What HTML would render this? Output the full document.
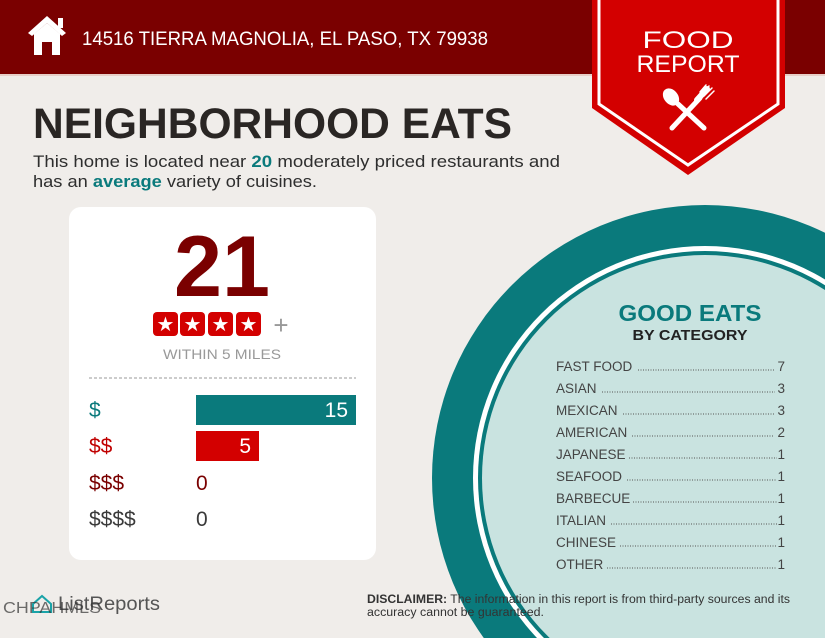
<!DOCTYPE html>
<html><head><meta charset="utf-8"><style>
html,body{margin:0;padding:0;background:#f0edea;width:825px;height:638px;overflow:hidden;}
svg{display:block;font-family:"Liberation Sans",sans-serif;overflow:hidden;}
</style></head><body>
<svg width="825" height="638" viewBox="0 0 825 638" xmlns="http://www.w3.org/2000/svg">
<defs><clipPath id="pg"><rect x="0" y="0" width="825" height="638"/></clipPath></defs>
<rect x="0" y="0" width="825" height="638" fill="#f0edea"/>
<!-- circle -->
<g clip-path="url(#pg)">
<circle cx="705" cy="478" r="273" fill="#0a7a7c"/>
<circle cx="705" cy="478" r="232" fill="#ffffff"/>
<circle cx="705" cy="478" r="227" fill="#0a7a7c"/>
<circle cx="705" cy="478" r="223" fill="#c9e3e0"/>
</g>
<!-- header -->
<rect x="0" y="0" width="825" height="74" fill="#7a0000"/>
<rect x="0" y="74" width="825" height="2" fill="#e8cfc8"/>
<!-- house icon -->
<path d="M28 33 L47 16 L66 33 L62 36 L47 23 L32 36 Z" fill="#fff"/>
<rect x="58" y="18" width="5" height="10" fill="#fff"/>
<path d="M34 34 L47 23 L60 34 L60 55 L52 55 L52 42 L42 42 L42 55 L34 55 Z" fill="#fff"/>
<text x="82" y="45" font-size="19" fill="#fff" textLength="406" lengthAdjust="spacingAndGlyphs">14516 TIERRA MAGNOLIA, EL PASO, TX 79938</text>
<!-- banner -->
<path d="M592 0 L785 0 L785 108 L688 175 L592 108 Z" fill="#d30000"/>
<path d="M599 0 L599 104 L688 165 L778 104 L778 0" fill="none" stroke="#fff" stroke-width="3"/>
<text x="688" y="48" font-size="24" fill="#fff" text-anchor="middle" textLength="91" lengthAdjust="spacingAndGlyphs">FOOD</text>
<text x="688" y="72" font-size="24" fill="#fff" text-anchor="middle" textLength="103" lengthAdjust="spacingAndGlyphs">REPORT</text>
<!-- spoon & fork -->
<g stroke="#fff" stroke-linecap="round" fill="#fff">
<line x1="678" y1="104" x2="704" y2="128" stroke-width="5"/>
<ellipse cx="671" cy="97" rx="6.5" ry="9" transform="rotate(-40 671 97)"/>
<line x1="700" y1="98" x2="672" y2="128" stroke-width="5"/>
<path d="M697 100 L707 89" stroke-width="6"/>
<line x1="702" y1="94" x2="709" y2="86" stroke-width="1.5"/>
<line x1="704" y1="96" x2="712" y2="88" stroke-width="1.5"/>
<line x1="700" y1="92" x2="706" y2="85" stroke-width="1.5"/>
<line x1="706" y1="99" x2="714" y2="91" stroke-width="1.5"/>
</g>
<!-- title -->
<text x="33" y="138" font-size="43" font-weight="bold" fill="#2a2624" textLength="479" lengthAdjust="spacingAndGlyphs">NEIGHBORHOOD EATS</text>
<text x="33" y="167" font-size="17" fill="#2e2e2e" textLength="527" lengthAdjust="spacingAndGlyphs">This home is located near <tspan fill="#0a7a7c" font-weight="bold">20</tspan> moderately priced restaurants and</text>
<text x="33" y="187" font-size="17" fill="#2e2e2e" textLength="284" lengthAdjust="spacingAndGlyphs">has an <tspan fill="#0a7a7c" font-weight="bold">average</tspan> variety of cuisines.</text>
<!-- card -->
<rect x="69" y="207" width="307" height="353" rx="12" fill="#fff"/>
<text x="222" y="296" font-size="86" font-weight="bold" fill="#7a0000" text-anchor="middle" textLength="96" lengthAdjust="spacingAndGlyphs">21</text>
<g>
<rect x="153" y="312" width="25" height="24" rx="4" fill="#d30000"/>
<rect x="180" y="312" width="25" height="24" rx="4" fill="#d30000"/>
<rect x="208" y="312" width="25" height="24" rx="4" fill="#d30000"/>
<rect x="236" y="312" width="25" height="24" rx="4" fill="#d30000"/>
<g fill="#fff" font-size="20" text-anchor="middle">
<text x="165.5" y="331">★</text><text x="192.5" y="331">★</text><text x="220.5" y="331">★</text><text x="248.5" y="331">★</text>
</g>
<text x="281" y="334" font-size="26" fill="#999" text-anchor="middle">+</text>
</g>
<text x="222" y="359" font-size="14" fill="#999" text-anchor="middle" textLength="118" lengthAdjust="spacingAndGlyphs">WITHIN 5 MILES</text>
<line x1="89" y1="378" x2="356" y2="378" stroke="#999" stroke-width="1" stroke-dasharray="3,2"/>
<rect x="196" y="395" width="160" height="30" fill="#0a7a7c"/>
<rect x="196" y="431" width="63" height="30" fill="#d30000"/>
<g font-size="21">
<text x="89" y="417" fill="#0a7a7c">$</text>
<text x="89" y="453" fill="#c00000">$$</text>
<text x="89" y="490" fill="#7a0000">$$$</text>
<text x="89" y="526" fill="#3a3a3a">$$$$</text>
<text x="348" y="417" fill="#fff" text-anchor="end">15</text>
<text x="251" y="453" fill="#fff" text-anchor="end">5</text>
<text x="196" y="490" fill="#7a0000">0</text>
<text x="196" y="526" fill="#3a3a3a">0</text>
</g>
<!-- good eats -->
<text x="690" y="321" font-size="23" font-weight="bold" fill="#0a7a7c" text-anchor="middle" textLength="143" lengthAdjust="spacingAndGlyphs">GOOD EATS</text>
<text x="690" y="340" font-size="15" font-weight="bold" fill="#222" text-anchor="middle" textLength="115" lengthAdjust="spacingAndGlyphs">BY CATEGORY</text>
<g font-size="13.5" fill="#444">
<text x="556" y="371">FAST FOOD</text><text x="785" y="371" text-anchor="end">7</text>
<text x="556" y="393">ASIAN</text><text x="785" y="393" text-anchor="end">3</text>
<text x="556" y="415">MEXICAN</text><text x="785" y="415" text-anchor="end">3</text>
<text x="556" y="437">AMERICAN</text><text x="785" y="437" text-anchor="end">2</text>
<text x="556" y="459">JAPANESE</text><text x="785" y="459" text-anchor="end">1</text>
<text x="556" y="481">SEAFOOD</text><text x="785" y="481" text-anchor="end">1</text>
<text x="556" y="503">BARBECUE</text><text x="785" y="503" text-anchor="end">1</text>
<text x="556" y="525">ITALIAN</text><text x="785" y="525" text-anchor="end">1</text>
<text x="556" y="547">CHINESE</text><text x="785" y="547" text-anchor="end">1</text>
<text x="556" y="569">OTHER</text><text x="785" y="569" text-anchor="end">1</text>
</g>
<g stroke="#555" stroke-width="1" stroke-dasharray="1,1.5">
<line x1="638" y1="370" x2="775" y2="370"/>
<line x1="602" y1="392" x2="775" y2="392"/>
<line x1="623" y1="414" x2="775" y2="414"/>
<line x1="632" y1="436" x2="774" y2="436"/>
<line x1="629" y1="458" x2="777" y2="458"/>
<line x1="627" y1="480" x2="777" y2="480"/>
<line x1="633" y1="502" x2="777" y2="502"/>
<line x1="611" y1="524" x2="777" y2="524"/>
<line x1="620" y1="546" x2="777" y2="546"/>
<line x1="607" y1="568" x2="777" y2="568"/>
</g>
<!-- footer -->
<path d="M33 604 L42 596 L51 604 L51 612 L33 612 Z" fill="none" stroke="#1aa3a8" stroke-width="2"/>
<text x="58" y="610" font-size="19" fill="#555" textLength="102" lengthAdjust="spacingAndGlyphs">ListReports</text>
<text x="3" y="613" font-size="16" fill="#333" opacity="0.7" textLength="98" lengthAdjust="spacingAndGlyphs">CHPAHMLS</text>
<text x="367" y="603" font-size="11.5" fill="#333" textLength="423" lengthAdjust="spacingAndGlyphs"><tspan font-weight="bold">DISCLAIMER:</tspan> The information in this report is from third-party sources and its</text>
<text x="367" y="616" font-size="11.5" fill="#333" textLength="177" lengthAdjust="spacingAndGlyphs">accuracy cannot be guaranteed.</text>
</svg>
</body></html>
